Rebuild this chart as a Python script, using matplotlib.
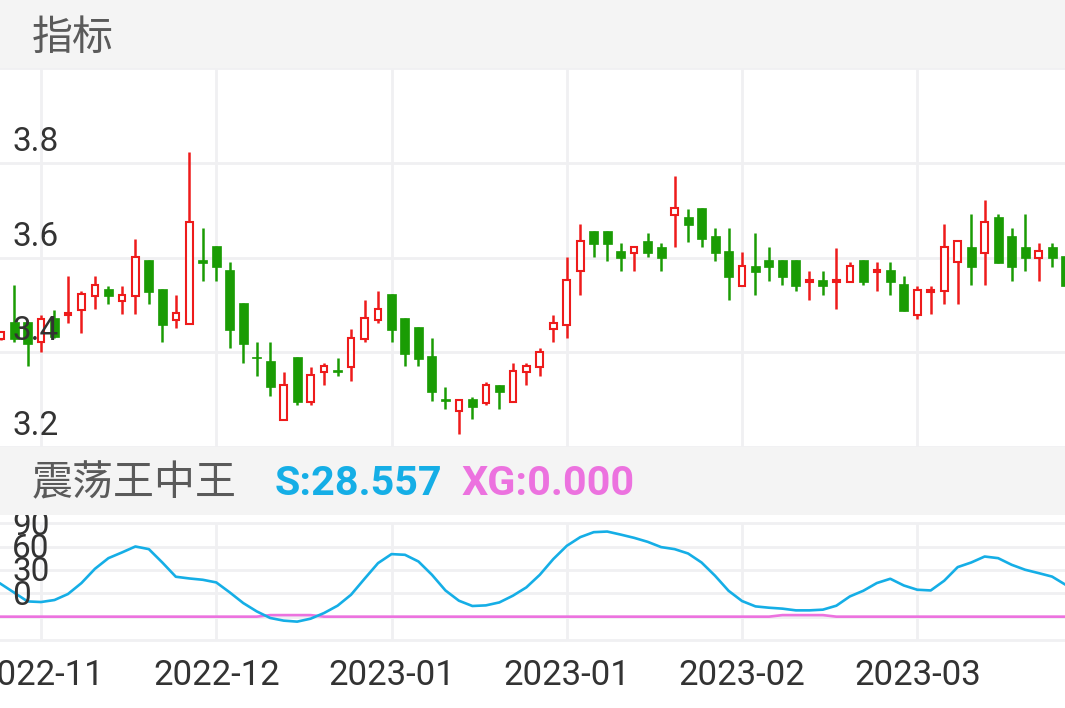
import numpy as np
import matplotlib
matplotlib.use("Agg")
import matplotlib.pyplot as plt
from matplotlib.patches import Rectangle
from matplotlib.transforms import blended_transform_factory, offset_copy

# daily candles (open, high, low, close)
opens = [3.428, 3.463, 3.463, 3.421, 3.473, 3.478, 3.490, 3.519, 3.533, 3.509,
         3.519, 3.594, 3.533, 3.468, 3.459, 3.594, 3.625, 3.574, 3.504, 3.391,
         3.382, 3.257, 3.391, 3.296, 3.358, 3.361, 3.368, 3.428, 3.468, 3.523,
         3.472, 3.453, 3.392, 3.301, 3.277, 3.301, 3.292, 3.331, 3.296, 3.358,
         3.368, 3.449, 3.458, 3.571, 3.655, 3.655, 3.614, 3.610, 3.634, 3.623,
         3.690, 3.685, 3.705, 3.645, 3.614, 3.539, 3.583, 3.594, 3.594, 3.594,
         3.548, 3.553, 3.548, 3.548, 3.594, 3.569, 3.573, 3.544, 3.479, 3.528,
         3.530, 3.590, 3.623, 3.610, 3.685, 3.645, 3.623, 3.599, 3.623, 3.604]
highs = [3.445, 3.541, 3.463, 3.479, 3.490, 3.560, 3.530, 3.560, 3.539, 3.539,
         3.640, 3.594, 3.533, 3.521, 3.823, 3.662, 3.625, 3.591, 3.504, 3.421,
         3.421, 3.358, 3.391, 3.368, 3.378, 3.388, 3.449, 3.511, 3.530, 3.523,
         3.472, 3.453, 3.430, 3.327, 3.299, 3.306, 3.337, 3.331, 3.378, 3.378,
         3.409, 3.479, 3.601, 3.671, 3.655, 3.655, 3.631, 3.623, 3.652, 3.631,
         3.773, 3.703, 3.705, 3.662, 3.662, 3.611, 3.652, 3.622, 3.594, 3.594,
         3.571, 3.571, 3.621, 3.590, 3.594, 3.590, 3.590, 3.560, 3.539, 3.539,
         3.671, 3.634, 3.692, 3.722, 3.692, 3.662, 3.692, 3.631, 3.631, 3.604]
lows = [3.425, 3.421, 3.370, 3.400, 3.430, 3.462, 3.440, 3.492, 3.502, 3.481,
        3.481, 3.502, 3.421, 3.451, 3.459, 3.551, 3.551, 3.410, 3.378, 3.349,
        3.308, 3.257, 3.289, 3.289, 3.330, 3.350, 3.340, 3.421, 3.462, 3.421,
        3.370, 3.370, 3.298, 3.280, 3.227, 3.259, 3.289, 3.280, 3.296, 3.330,
        3.350, 3.421, 3.430, 3.521, 3.601, 3.592, 3.571, 3.571, 3.601, 3.571,
        3.622, 3.632, 3.622, 3.592, 3.511, 3.539, 3.521, 3.551, 3.541, 3.530,
        3.511, 3.521, 3.491, 3.548, 3.541, 3.530, 3.520, 3.488, 3.471, 3.481,
        3.502, 3.502, 3.541, 3.541, 3.588, 3.551, 3.571, 3.551, 3.581, 3.521]
closes = [3.442, 3.428, 3.417, 3.471, 3.433, 3.483, 3.523, 3.542, 3.519, 3.521,
          3.602, 3.528, 3.457, 3.483, 3.674, 3.589, 3.579, 3.447, 3.417, 3.387,
          3.326, 3.331, 3.296, 3.351, 3.371, 3.358, 3.431, 3.472, 3.492, 3.447,
          3.397, 3.386, 3.316, 3.297, 3.299, 3.285, 3.330, 3.316, 3.361, 3.371,
          3.401, 3.462, 3.552, 3.634, 3.629, 3.629, 3.599, 3.623, 3.610, 3.599,
          3.705, 3.669, 3.639, 3.610, 3.559, 3.583, 3.569, 3.579, 3.559, 3.539,
          3.553, 3.539, 3.553, 3.583, 3.548, 3.573, 3.548, 3.488, 3.532, 3.532,
          3.623, 3.634, 3.579, 3.674, 3.588, 3.579, 3.599, 3.613, 3.599, 3.539]

# indicator lines
s_vals = [42.3, 31.0, 19.6, 18.8, 21.4, 29.1, 43.2, 61.5, 75.2, 82.5,
          90.2, 86.8, 69.6, 51.3, 49.1, 47.4, 44.0, 31.2, 17.5, 6.8,
          -1.7, -5.1, -6.4, -2.6, 4.7, 14.1, 28.2, 48.7, 68.8, 80.4,
          79.5, 70.9, 53.8, 33.7, 20.5, 13.7, 14.5, 18.3, 26.9, 37.6,
          53.8, 74.0, 91.0, 102.2, 108.6, 109.4, 105.5, 101.3, 96.2, 89.4,
          86.8, 81.2, 69.6, 52.6, 33.3, 20.1, 13.2, 11.5, 10.3, 8.1,
          8.1, 9.0, 14.1, 26.0, 33.3, 43.2, 48.7, 40.1, 34.6, 33.7,
          46.2, 63.7, 69.6, 77.3, 75.2, 66.7, 60.3, 56.0, 51.5, 41.0]
xg_vals = [0] * 20 + [2, 2, 2, 2] + [0] * 34 + [2, 2, 2, 2] + [0] * 18

date_ticks = [3, 16, 29, 42, 55, 68]
date_labels = ["2022-11", "2022-12", "2023-01", "2023-01", "2023-02", "2023-03"]
price_ticks = [3.2, 3.4, 3.6, 3.8]
ind_ticks = [0, 30, 60, 90]

RED = "#ee1b1b"
GREEN = "#1a9c04"
GRID = "#f0f0f2"
BAND = "#f4f4f4"
CJK = ["Noto Sans CJK SC", "DejaVu Sans"]

W, H = 1065, 708
fig = plt.figure(figsize=(W / 100, H / 100), dpi=100)
fig.patch.set_facecolor("white")


def axes_px(top, bottom):
    return fig.add_axes([0, 1 - bottom / H, 1, (bottom - top) / H])


ax = axes_px(68, 447)
ax2 = axes_px(523.3, 640)

xmin, xmax = -0.042, 78.96
for a in (ax, ax2):
    a.set_xlim(xmin, xmax)
    for sp in a.spines.values():
        sp.set_visible(False)
    a.set_xticks(date_ticks)
    a.tick_params(length=0, labelleft=False)
    a.grid(True, color=GRID, lw=2.0)
    a.set_axisbelow(True)

ax.set_ylim(3.2, 4.0)
ax.set_yticks([3.2, 3.4, 3.6, 3.8, 4.0])
ax.tick_params(labelbottom=False)

ax2.set_ylim(-30, 120)
ax2.set_yticks([-30, 0, 30, 60, 90, 120])
for gl in ax2.get_ygridlines():
    gl.set_clip_on(False)
ax2.set_xticklabels(date_labels, fontsize=25, color="#333333", family="Roboto")
ax2.tick_params(axis="x", pad=14)

# candles
o = np.array(opens)
h = np.array(highs)
l = np.array(lows)
c = np.array(closes)
idx = np.arange(len(o))
up = c >= o
mh = 0.004
body_lo = np.minimum(o, c)
body_h = np.maximum(np.abs(c - o), mh)

ax.vlines(idx[~up], l[~up], h[~up], color=GREEN, lw=1.8, zorder=2)
ax.bar(idx[~up], body_h[~up], bottom=body_lo[~up], width=0.667,
       color=GREEN, edgecolor=GREEN, lw=0.5, zorder=3)

ax.vlines(idx[up], l[up], body_lo[up], color=RED, lw=1.8, zorder=2)
ax.vlines(idx[up], body_lo[up] + body_h[up], h[up], color=RED, lw=1.8, zorder=2)
ax.bar(idx[up], body_h[up], bottom=body_lo[up], width=0.49,
       facecolor="white", edgecolor=RED, lw=1.5, zorder=3)

# indicator panel
ax2.plot(idx, xg_vals, color="#ec72df", lw=1.9, zorder=3)
ax2.plot(idx, s_vals, color="#15aee6", lw=1.9, zorder=4)

# y labels sit just above their grid lines
for a, ticks, fmt in ((ax, price_ticks, "{:.1f}"), (ax2, ind_ticks, "{:d}")):
    tr = offset_copy(blended_transform_factory(a.transAxes, a.transData),
                     fig=fig, x=0, y=12, units="dots")
    for t in ticks:
        a.text(12 / W, t, fmt.format(t), transform=tr, fontsize=24,
               family="Roboto", color="#333333", va="baseline", ha="left",
               zorder=6, clip_on=False)

# header bands
fig.add_artist(Rectangle((0, 1 - 68 / H), 1, 68 / H, transform=fig.transFigure,
                         facecolor=BAND, edgecolor="none", zorder=5))
fig.add_artist(Rectangle((0, 1 - 515 / H), 1, 68 / H, transform=fig.transFigure,
                         facecolor=BAND, edgecolor="none", zorder=5))

fig.text(32 / W, 1 - 38 / H, "指标", fontsize=29.5, family=CJK, color="#5a5a5a",
         va="center", ha="left", zorder=6)
fig.text(32 / W, 1 - 484 / H, "震荡王中王", fontsize=29.5, family=CJK, color="#5a5a5a",
         va="center", ha="left", zorder=6)
fig.text(275 / W, 1 - 484 / H, "S:28.557", fontsize=29.8, family="Roboto",
         weight="bold", color="#15aee6", va="center", ha="left", zorder=6)
fig.text(462 / W, 1 - 484 / H, "XG:0.000", fontsize=29.8, family="Roboto",
         weight="bold", color="#ec72df", va="center", ha="left", zorder=6)

fig.savefig("out.png", dpi=100)
